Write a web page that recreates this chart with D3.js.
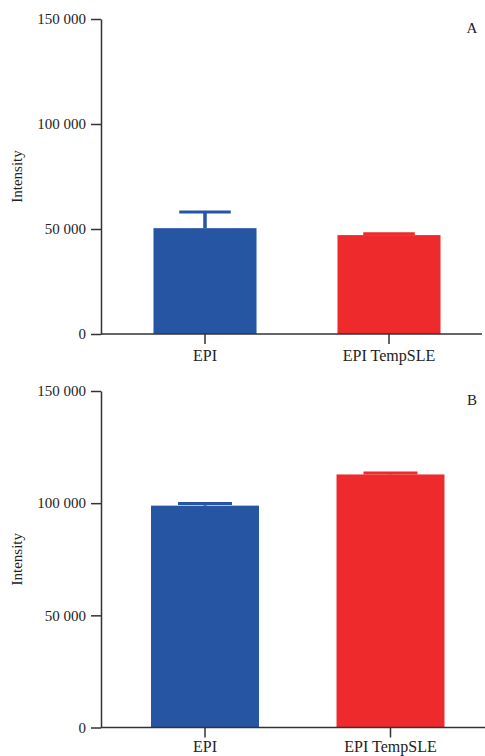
<!DOCTYPE html>
<html>
<head>
<meta charset="utf-8">
<script src="https://cdn.jsdelivr.net/npm/d3@7"></script>
<style>
  html, body { margin: 0; padding: 0; background: #fff; }
  svg { display: block; font-family: "Liberation Serif", "Times New Roman", serif; }
</style>
</head>
<body>
<div id="chart"></div>
<script>
// Two-panel bar chart (A / B) with mean + error bars

const categories = ["EPI", "EPI TempSLE"];
const yTicks = [0, 50000, 100000, 150000];
const panelLabels = ["A", "B"];

// panel A
const meanA = [50400, 47100];
const errA = [7700, 600];

// panel B
const meanB = [98900, 112800];
const errB = [900, 650];

const barColors = ["#2555a3", "#ee2a2c"];

const W = 485, H = 756;
const svg = d3.select("#chart").append("svg")
    .attr("width", W)
    .attr("height", H);

const fmt = d3.formatLocale({ decimal: ".", thousands: " ", grouping: [3], currency: ["", ""] }).format(",");

function drawPanel(cfg) {
    const g = svg.append("g");

    const y = d3.scaleLinear().domain([0, 150000]).range([cfg.bottom, cfg.top]);
    const x = d3.scaleBand()
        .domain(categories)
        .range([cfg.x0, cfg.x1])
        .paddingInner(cfg.pad)
        .paddingOuter(cfg.pad / 2);

    // bars
    g.selectAll(".bar")
        .data(cfg.means)
        .enter()
        .append("rect")
        .attr("class", "bar")
        .attr("x", (d, i) => x(categories[i]))
        .attr("y", d => y(d))
        .attr("width", x.bandwidth())
        .attr("height", d => y(0) - y(d))
        .attr("fill", (d, i) => barColors[i]);

    // error bars (upper only)
    const errs = cfg.means.map((m, i) => ({ m: m, e: cfg.errs[i], c: categories[i], col: barColors[i] }));
    g.selectAll(".err-v")
        .data(errs)
        .enter()
        .append("line")
        .attr("x1", d => x(d.c) + x.bandwidth() / 2)
        .attr("x2", d => x(d.c) + x.bandwidth() / 2)
        .attr("y1", d => y(d.m))
        .attr("y2", d => y(d.m + d.e))
        .attr("stroke", d => d.col)
        .attr("stroke-width", 3.5);

    g.selectAll(".err-cap")
        .data(errs)
        .enter()
        .append("line")
        .attr("x1", d => x(d.c) + x.bandwidth() / 4)
        .attr("x2", d => x(d.c) + x.bandwidth() * 3 / 4)
        .attr("y1", d => y(d.m + d.e))
        .attr("y2", d => y(d.m + d.e))
        .attr("stroke", d => d.col)
        .attr("stroke-width", 3);

    // y axis
    const yAxis = g.append("g")
        .attr("transform", `translate(${cfg.axisX},0)`)
        .call(d3.axisLeft(y).tickValues(yTicks).tickFormat(fmt).tickSize(10).tickSizeOuter(0).tickPadding(5));
    yAxis.select(".domain").attr("stroke", "#333").attr("stroke-width", 1.5);
    yAxis.selectAll(".tick line").attr("stroke", "#333").attr("stroke-width", 1.5);
    yAxis.selectAll(".tick text")
        .attr("fill", "#222")
        .style("font-size", "15px")
        .style("font-family", "'Liberation Serif', serif");

    // x axis
    const xAxis = g.append("g")
        .attr("transform", `translate(0,${cfg.bottom})`)
        .call(d3.axisBottom(x).tickSize(10).tickSizeOuter(0).tickPadding(cfg.labelPad));
    xAxis.select(".domain").remove();
    xAxis.selectAll(".tick line").attr("stroke", "#333").attr("stroke-width", 1.5);
    xAxis.selectAll(".tick text")
        .attr("fill", "#222")
        .style("font-size", "16px")
        .style("font-family", "'Liberation Serif', serif");

    g.append("line")
        .attr("x1", cfg.axisX)
        .attr("x2", cfg.lineEnd)
        .attr("y1", cfg.bottom)
        .attr("y2", cfg.bottom)
        .attr("stroke", "#333")
        .attr("stroke-width", 1.5);

    // y title
    g.append("text")
        .attr("transform", `translate(22,${(cfg.top + cfg.bottom) / 2}) rotate(-90)`)
        .attr("text-anchor", "middle")
        .attr("fill", "#222")
        .style("font-size", "15px")
        .text("Intensity");

    // panel letter
    g.append("text")
        .attr("x", 472)
        .attr("y", cfg.top + 14)
        .attr("text-anchor", "middle")
        .attr("fill", "#222")
        .style("font-size", "15px")
        .text(cfg.label);
}

drawPanel({ top: 19, bottom: 334, axisX: 101, x0: 113, x1: 481, pad: 0.44, lineEnd: 482, labelPad: 6,
            means: meanA, errs: errA, label: panelLabels[0] });
drawPanel({ top: 391, bottom: 727.5, axisX: 101, x0: 112.25, x1: 483.25, pad: 0.418, lineEnd: 485, labelPad: 3,
            means: meanB, errs: errB, label: panelLabels[1] });
</script>
</body>
</html>
